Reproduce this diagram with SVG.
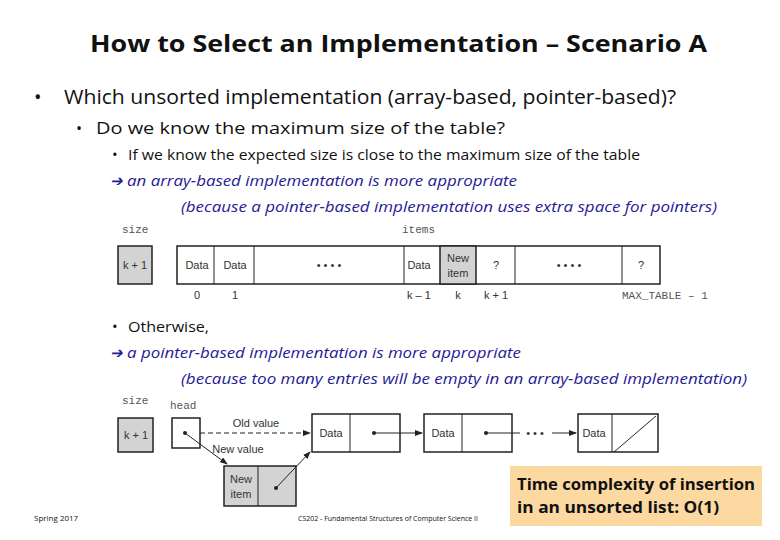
<svg xmlns="http://www.w3.org/2000/svg" width="780" height="540" viewBox="0 0 780 540">
<style>
text{font-family:"Open Sans","Liberation Sans",sans-serif;fill:#111}
.t{font-size:15px}
.b{font-size:15px;fill:#1f2096;font-style:italic}
.m{font-family:"Liberation Mono",monospace;font-size:11px;fill:#555}
.c{font-family:"Liberation Sans",sans-serif;font-size:11px;fill:#333;text-anchor:middle}
.w{fill:#fff;stroke:#222;stroke-width:1.5}
.g{fill:#d3d3d3;stroke:#222;stroke-width:1.5}
.ln{stroke:#222;stroke-width:1;fill:none}
</style>
<defs><marker id="a" markerWidth="8" markerHeight="6" refX="7" refY="3" orient="auto"><path d="M0,0L8,3L0,6z" fill="#222"/></marker></defs>
<rect width="780" height="540" fill="#fff"/>
<text x="90" y="52" font-size="24" font-weight="bold" textLength="617" lengthAdjust="spacingAndGlyphs">How to Select an Implementation – Scenario A</text>
<text x="34" y="104" font-size="20">•</text><text x="64" y="104" font-size="20" textLength="612" lengthAdjust="spacingAndGlyphs">Which unsorted implementation (array-based, pointer-based)?</text>
<text x="76" y="134" font-size="16">•</text><text x="96" y="134" font-size="16" textLength="409" lengthAdjust="spacingAndGlyphs">Do we know the maximum size of the table?</text>
<text x="112" y="160" class="t">•</text><text x="128" y="160" class="t" textLength="512" lengthAdjust="spacingAndGlyphs">If we know the expected size is close to the maximum size of the table</text>
<text x="110" y="186" class="b" font-style="normal">➔</text><text x="127" y="186" class="b" textLength="390" lengthAdjust="spacingAndGlyphs">an array-based implementation is more appropriate</text>
<text x="181" y="212" class="b" textLength="536" lengthAdjust="spacingAndGlyphs">(because a pointer-based implementation uses extra space for pointers)</text>
<g id="array">
<text x="122" y="233" class="m">size</text><text x="402" y="233" class="m">items</text>
<rect x="118" y="246" width="34" height="38" class="g"/><text x="135" y="269" class="c">k + 1</text>
<rect x="177" y="246" width="483" height="38" class="w"/>
<rect x="440" y="246" width="36" height="38" class="g"/>
<path d="M214,246V284M254,246V284M404,246V284M515,246V284M622,246V284" class="ln" stroke-width="1.5"/>
<text x="197" y="269" class="c">Data</text><text x="235" y="269" class="c">Data</text>
<text x="329" y="269" class="c">• • • •</text><text x="419" y="269" class="c">Data</text>
<text x="458" y="262" class="c">New</text><text x="458" y="277" class="c">item</text>
<text x="496" y="269" class="c">?</text><text x="569" y="269" class="c">• • • •</text><text x="641" y="269" class="c">?</text>
<text x="197" y="299" class="c">0</text><text x="235" y="299" class="c">1</text><text x="419" y="299" class="c">k – 1</text><text x="458" y="299" class="c">k</text><text x="496" y="299" class="c">k + 1</text>
<text x="622" y="299" class="m">MAX_TABLE – 1</text>
</g>
<text x="112" y="332" class="t">•</text><text x="128" y="332" class="t" textLength="81" lengthAdjust="spacingAndGlyphs">Otherwise,</text>
<text x="110" y="358" class="b" font-style="normal">➔</text><text x="127" y="358" class="b" textLength="394" lengthAdjust="spacingAndGlyphs">a pointer-based implementation is more appropriate</text>
<text x="181" y="384" class="b" textLength="566" lengthAdjust="spacingAndGlyphs">(because too many entries will be empty in an array-based implementation)</text>
<g id="size2"><text x="122" y="404" class="m">size</text><rect x="118" y="418" width="35" height="34" class="g"/><text x="136" y="439" class="c">k + 1</text></g>
<g id="head"><text x="170" y="409" class="m">head</text><rect x="172" y="418" width="28" height="30" class="w"/></g>
<g id="n1"><rect x="312" y="414" width="88" height="38" class="w"/><path d="M350,414V452" class="ln" stroke-width="1.5"/><text x="331" y="437" class="c">Data</text></g>
<g id="n2"><rect x="424" y="414" width="88" height="38" class="w"/><path d="M462,414V452" class="ln" stroke-width="1.5"/><text x="443" y="437" class="c">Data</text></g>
<g id="n3"><rect x="578" y="414" width="80" height="38" class="w"/><path d="M612,414V452M614,452L656,416" class="ln" stroke-width="1.5"/><text x="594" y="437" class="c">Data</text></g>
<g id="newitem"><rect x="224" y="466" width="72" height="40" class="g"/><path d="M258,466V506" class="ln" stroke-width="1.5"/><text x="241" y="483" class="c">New</text><text x="241" y="498" class="c">item</text></g>
<g id="connectors">
<path d="M200,433H310" class="ln" stroke-dasharray="5,3" marker-end="url(#a)"/>
<path d="M185,433L227,464" class="ln" stroke-width="1.5" marker-end="url(#a)"/>
<path d="M276,488L310,452" class="ln" marker-end="url(#a)"/>
<path d="M374,433H422" class="ln" marker-end="url(#a)"/>
<path d="M486,433H520" class="ln"/><text x="535" y="437" class="c">• • •</text><path d="M552,433H576" class="ln" marker-end="url(#a)"/>
<circle cx="185" cy="433" r="2" fill="#222"/><circle cx="276" cy="488" r="2" fill="#222"/><circle cx="374" cy="433" r="2" fill="#222"/><circle cx="486" cy="433" r="2" fill="#222"/>
</g>
<text x="256" y="427" class="c">Old value</text><text x="238" y="453" class="c">New value</text>
<rect x="510" y="466" width="252" height="60" fill="#fcd9a0"/>
<text x="517" y="490" font-size="16" font-weight="bold" textLength="238" lengthAdjust="spacingAndGlyphs">Time complexity of insertion</text>
<text x="517" y="513" font-size="16" font-weight="bold" textLength="202" lengthAdjust="spacingAndGlyphs">in an unsorted list:  O(1)</text>
<text x="34" y="521" font-family="Liberation Serif" font-size="8">Spring 2017</text>
<text x="298" y="521" font-family="Liberation Serif" font-size="8" textLength="180" lengthAdjust="spacingAndGlyphs">CS202 - Fundamental Structures of Computer Science II</text>
</svg>
